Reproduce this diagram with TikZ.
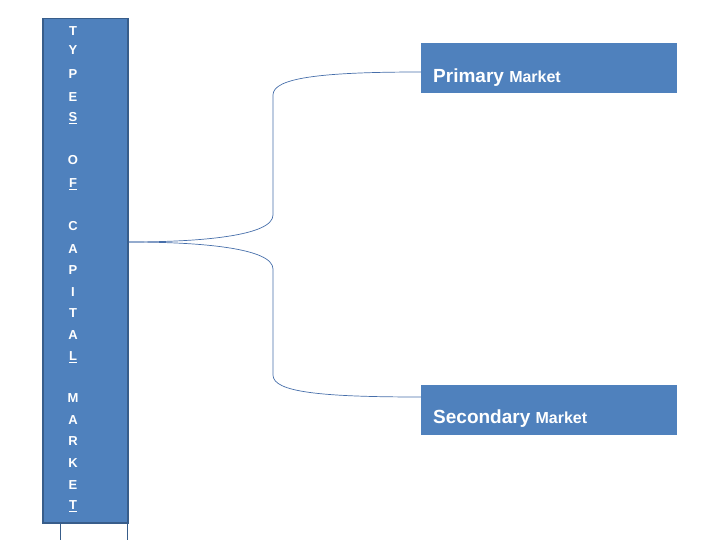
\documentclass[tikz,border=0pt]{standalone}
\usepackage{fontspec}
\setmainfont{Liberation Sans}
\begin{document}
\begin{tikzpicture}[x=1pt,y=-1pt,
  blk/.style={draw=black!0!blue!40!black!60!cyan!0, fill={rgb,255:red,79;green,129;blue,189}},
  ltr/.style={text=white,font=\bfseries\fontsize{13}{13}\selectfont,inner sep=0pt},
  brace/.style={draw={rgb,255:red,70;green,110;blue,170},line width=0.7pt}]
\useasboundingbox (0,0) rectangle (720,540);
\definecolor{bord}{RGB}{56,93,138}
\definecolor{fillb}{RGB}{79,129,189}
\node[draw=bord,line width=1.5pt,fill=fillb,minimum width=85pt,minimum height=504pt,anchor=north west,inner sep=0pt] (col) at (42,18) {};
\draw[bord,line width=0.6pt] (60,522) -- (60,540) (127,522) -- (127,540);
\foreach \l/\y [count=\i] in {T/31,Y/50,P/74,E/97,\underline{S}/118,O/160,\underline{F}/184,C/226,A/249,P/270,I/292,T/313,A/335,\underline{L}/357,M/398,A/420,R/441,K/463,E/485,\underline{T}/506}
  \node[ltr] (l\i) at (73,\y) {\l};
\node[fill=fillb,minimum width=256pt,minimum height=50pt,anchor=north west,inner sep=0pt] (pm) at (421,43) {};
\node[anchor=west,text=white,inner sep=0pt] (pmt) at (433,78) {\bfseries\fontsize{19}{19}\selectfont Primary \fontsize{16}{16}\selectfont Market};
\node[fill=fillb,minimum width=256pt,minimum height=50pt,anchor=north west,inner sep=0pt] (sm) at (421,385) {};
\node[anchor=west,text=white,inner sep=0pt] (smt) at (433,419) {\bfseries\fontsize{19}{19}\selectfont Secondary \fontsize{16}{16}\selectfont Market};
\coordinate (bt) at (421,72);
\coordinate (bb) at (421,397);
\draw[brace] (col.east |- 0,242) .. controls (200,242) and (273,236) .. (273,215)
  -- (273,95) .. controls (273,78) and (320,72) .. (bt);
\draw[brace] (col.east |- 0,242) .. controls (200,242) and (273,248) .. (273,269)
  -- (273,375) .. controls (273,392) and (320,397) .. (bb);
\end{tikzpicture}
\end{document}
